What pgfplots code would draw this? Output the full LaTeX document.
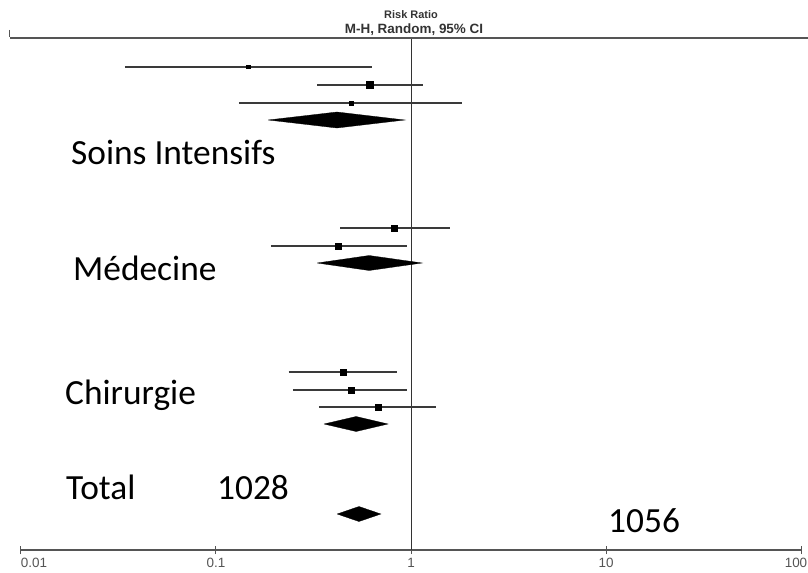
\documentclass[border=0pt]{standalone}
\usepackage{pgfplots}
\pgfplotsset{compat=1.18}
\usepackage{fontspec}
\setmainfont{Liberation Sans}
\newfontfamily\calibri{Carlito}
\definecolor{ln}{HTML}{3A3A3A}
\definecolor{tk}{HTML}{555555}
\definecolor{hd}{HTML}{333333}
\begin{document}
\begin{tikzpicture}[x=1bp,y=1bp]
\useasboundingbox (0,0) rectangle (808,-573);
\begin{axis}[
  at={(21bp,-550bp)}, anchor=south west,
  scale only axis, width=780bp, height=512bp,
  xmode=log, xmin=0.01, xmax=100, ymin=-550, ymax=-38,
  axis x line=bottom, axis y line=none,
  x axis line style={-, tk, line width=1.1bp},
  xtick={0.01,0.1,1,10,100},
  xticklabels={\rlap{0.01},0.1,1,10,\makebox[0pt][c]{\hspace*{-10bp}100}},
  xminorticks=false,
  tick align=center, major tick length=8bp,
  tick style={tk, line width=1bp},
  xticklabel style={font=\fontsize{13.5}{15}\selectfont, text=tk, inner sep=1bp, yshift=-3bp},
  /pgf/number format/assume math mode=true,
  clip=false,
]
% reference line at 1
\addplot[hd, line width=1bp] coordinates {(1,-550) (1,-38)};
% confidence intervals
\addplot[ln, line width=1.2bp] coordinates {(0.0341,-67) (0.631,-67)};
\addplot[ln, line width=1.2bp] coordinates {(0.330,-85) (1.15,-85)};
\addplot[ln, line width=1.2bp] coordinates {(0.131,-103) (1.83,-103)};
\addplot[ln, line width=1.2bp] coordinates {(0.433,-228) (1.585,-228)};
\addplot[ln, line width=1.2bp] coordinates {(0.191,-246) (0.953,-246)};
\addplot[ln, line width=1.2bp] coordinates {(0.236,-372) (0.847,-372)};
\addplot[ln, line width=1.2bp] coordinates {(0.248,-390) (0.953,-390)};
\addplot[ln, line width=1.2bp] coordinates {(0.337,-407) (1.34,-407)};
% point estimates
\addplot[only marks, mark=square*, mark size=1.7bp, black] coordinates {(0.146,-67)};
\addplot[only marks, mark=square*, mark size=3.5bp, black] coordinates {(0.617,-85)};
\addplot[only marks, mark=square*, mark size=2.1bp, black] coordinates {(0.492,-103)};
\addplot[only marks, mark=square*, mark size=2.9bp, black] coordinates {(0.818,-228)};
\addplot[only marks, mark=square*, mark size=2.9bp, black] coordinates {(0.423,-246)};
\addplot[only marks, mark=square*, mark size=2.9bp, black] coordinates {(0.448,-372)};
\addplot[only marks, mark=square*, mark size=2.9bp, black] coordinates {(0.492,-390)};
\addplot[only marks, mark=square*, mark size=2.9bp, black] coordinates {(0.678,-407)};
% pooled diamonds
\addplot[fill=black, draw=black, line width=0.3bp] coordinates {(0.185,-120) (0.417,-112) (0.931,-120) (0.417,-128) (0.185,-120)};
\addplot[fill=black, draw=black, line width=0.3bp] coordinates {(0.330,-263) (0.61,-255.5) (1.14,-263) (0.61,-270.5) (0.330,-263)};
\addplot[fill=black, draw=black, line width=0.3bp] coordinates {(0.358,-424) (0.523,-416.5) (0.762,-424) (0.523,-431.5) (0.358,-424)};
\addplot[fill=black, draw=black, line width=0.3bp] coordinates {(0.418,-514) (0.541,-506.5) (0.701,-514) (0.541,-521.5) (0.418,-514)};
\end{axis}
% header
\draw[tk, line width=1.3bp] (10,-38) -- (808,-38);
\draw[tk, line width=0.9bp] (9,-30) -- (9,-37);
\node[anchor=base, inner sep=0, font=\bfseries\fontsize{11}{13}\selectfont, text=hd] at (411,-18.5) {Risk Ratio};
\node[anchor=base, inner sep=0, font=\bfseries\fontsize{13.5}{15}\selectfont, text=hd] at (414,-34) {M-H, Random, 95\% CI};
% group labels
\node[anchor=base west, inner sep=0, font=\calibri\fontsize{35.5}{42}\selectfont] at (71,-165) {Soins Intensifs};
\node[anchor=base west, inner sep=0, font=\calibri\fontsize{35.5}{42}\selectfont] at (73,-280) {Médecine};
\node[anchor=base west, inner sep=0, font=\calibri\fontsize{35.5}{42}\selectfont] at (65,-404) {Chirurgie};
\node[anchor=base west, inner sep=0, font=\calibri\fontsize{35.5}{42}\selectfont] at (66,-499) {Total};
\node[anchor=base west, inner sep=0, font=\calibri\fontsize{35.5}{42}\selectfont] at (217,-499) {1028};
\node[anchor=base west, inner sep=0, font=\calibri\fontsize{35.5}{42}\selectfont] at (608,-532) {1056};
\end{tikzpicture}
\end{document}
